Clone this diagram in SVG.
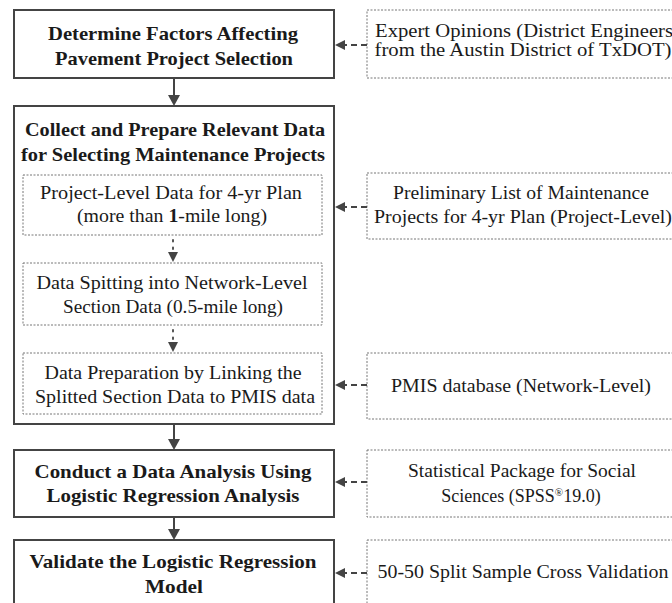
<svg xmlns="http://www.w3.org/2000/svg" width="672" height="603" viewBox="0 0 672 603">
  <style>
    .main { fill: #ffffff; stroke: #444444; stroke-width: 2; }
    .sub { fill: #ffffff; stroke: #777777; stroke-width: 1; stroke-dasharray: 2 1.5; }
    .src { fill: #ffffff; stroke: #777777; stroke-width: 1; stroke-dasharray: 2 1.5; }
    .bold { font-family: 'Liberation Serif', 'Times New Roman', serif; font-size: 19px; font-weight: bold; fill: #1a1a1a; text-anchor: middle; }
    .reg { font-family: 'Liberation Serif', 'Times New Roman', serif; font-size: 18px; fill: #1a1a1a; text-anchor: middle; }
    .flow { stroke: #444444; stroke-width: 2; fill: none; }
    .dot { stroke: #555555; stroke-width: 2; stroke-dasharray: 1.5 6; stroke-linecap: round; fill: none; }
    .dash { stroke: #444444; stroke-width: 2; stroke-dasharray: 6 4; fill: none; }
    .head { fill: #444444; }
  </style>
  <rect width="672" height="603" fill="#ffffff"/>

  <g id="determine-factors">
    <rect class="main" x="14" y="10" width="320" height="68"/>
    <text class="bold" x="173" y="40" textLength="250" lengthAdjust="spacingAndGlyphs">Determine Factors Affecting</text>
    <text class="bold" x="174" y="65" textLength="238" lengthAdjust="spacingAndGlyphs">Pavement Project Selection</text>
  </g>

  <g id="collect-data">
    <rect class="main" x="14" y="106" width="320" height="318"/>
    <text class="bold" x="175" y="136" textLength="300" lengthAdjust="spacingAndGlyphs">Collect and Prepare Relevant Data</text>
    <text class="bold" x="173" y="161" textLength="304" lengthAdjust="spacingAndGlyphs">for Selecting Maintenance Projects</text>
  </g>

  <g id="project-level-data">
    <rect class="sub" x="23" y="175" width="299" height="60"/>
    <text class="reg" x="171" y="199" textLength="262" lengthAdjust="spacingAndGlyphs">Project-Level Data for 4-yr Plan</text>
    <text class="reg" x="172" y="222" textLength="190" lengthAdjust="spacingAndGlyphs">(more than <tspan font-weight="bold">1</tspan>-mile long)</text>
  </g>

  <g id="data-splitting">
    <rect class="sub" x="23" y="263" width="299" height="62"/>
    <text class="reg" x="172" y="289" textLength="271" lengthAdjust="spacingAndGlyphs">Data Spitting into Network-Level</text>
    <text class="reg" x="173" y="313" textLength="220" lengthAdjust="spacingAndGlyphs">Section Data (0.5-mile long)</text>
  </g>

  <g id="data-preparation">
    <rect class="sub" x="23" y="353" width="299" height="61"/>
    <text class="reg" x="173" y="379" textLength="257" lengthAdjust="spacingAndGlyphs">Data Preparation by Linking the</text>
    <text class="reg" x="175" y="403" textLength="280" lengthAdjust="spacingAndGlyphs">Splitted Section Data to PMIS data</text>
  </g>

  <g id="conduct-analysis">
    <rect class="main" x="14" y="450" width="320" height="67"/>
    <text class="bold" x="173" y="478" textLength="277" lengthAdjust="spacingAndGlyphs">Conduct a Data Analysis Using</text>
    <text class="bold" x="173" y="502" textLength="253" lengthAdjust="spacingAndGlyphs">Logistic Regression Analysis</text>
  </g>

  <g id="validate-model">
    <rect class="main" x="14" y="540" width="320" height="70"/>
    <text class="bold" x="173" y="568" textLength="287" lengthAdjust="spacingAndGlyphs">Validate the Logistic Regression</text>
    <text class="bold" x="174" y="593" textLength="58" lengthAdjust="spacingAndGlyphs">Model</text>
  </g>

  <g id="expert-opinions">
    <rect class="src" x="367" y="10" width="310" height="68"/>
    <text class="reg" x="524" y="37" textLength="298" lengthAdjust="spacingAndGlyphs">Expert Opinions (District Engineers</text>
    <text class="reg" x="523" y="56" textLength="297" lengthAdjust="spacingAndGlyphs">from the Austin District of TxDOT)</text>
  </g>

  <g id="preliminary-list">
    <rect class="src" x="367" y="173" width="310" height="66"/>
    <text class="reg" x="521" y="199" textLength="256" lengthAdjust="spacingAndGlyphs">Preliminary List of Maintenance</text>
    <text class="reg" x="523" y="223" textLength="298" lengthAdjust="spacingAndGlyphs">Projects for 4-yr Plan (Project-Level)</text>
  </g>

  <g id="pmis-database">
    <rect class="src" x="367" y="353" width="310" height="66"/>
    <text class="reg" x="521" y="392" textLength="260" lengthAdjust="spacingAndGlyphs">PMIS database (Network-Level)</text>
  </g>

  <g id="spss">
    <rect class="src" x="367" y="450" width="310" height="67"/>
    <text class="reg" x="522" y="477" textLength="228" lengthAdjust="spacingAndGlyphs">Statistical Package for Social</text>
    <text class="reg" x="521" y="502">Sciences (SPSS<tspan font-size="11" dy="-6">®</tspan><tspan dy="6">19.0)</tspan></text>
  </g>

  <g id="split-validation">
    <rect class="src" x="367" y="540" width="310" height="70"/>
    <text class="reg" x="523" y="578" textLength="291" lengthAdjust="spacingAndGlyphs">50-50 Split Sample Cross Validation</text>
  </g>

  <g id="connectors">
    <!-- main flow -->
    <line class="flow" x1="174" y1="78" x2="174" y2="96"/>
    <polygon class="head" points="168,95 180,95 174,106"/>
    <line class="flow" x1="174" y1="424" x2="174" y2="440"/>
    <polygon class="head" points="168,439 180,439 174,450"/>
    <line class="flow" x1="174" y1="517" x2="174" y2="530"/>
    <polygon class="head" points="168,529 180,529 174,540"/>
    <!-- steps inside the data box -->
    <line class="dot" x1="173" y1="240" x2="173" y2="252"/>
    <polygon class="head" points="168,252 178,252 173,262"/>
    <line class="dot" x1="173" y1="330" x2="173" y2="342"/>
    <polygon class="head" points="168,342 178,342 173,352"/>
    <!-- inputs from the right -->
    <line class="dash" x1="367" y1="45" x2="344" y2="45"/>
    <polygon class="head" points="345,40 345,50 335,45"/>
    <line class="dash" x1="367" y1="207" x2="344" y2="207"/>
    <polygon class="head" points="345,202 345,212 335,207"/>
    <line class="dash" x1="367" y1="385" x2="344" y2="385"/>
    <polygon class="head" points="345,380 345,390 335,385"/>
    <line class="dash" x1="367" y1="482" x2="344" y2="482"/>
    <polygon class="head" points="345,477 345,487 335,482"/>
    <line class="dash" x1="367" y1="573" x2="344" y2="573"/>
    <polygon class="head" points="345,568 345,578 335,573"/>
  </g>
</svg>
